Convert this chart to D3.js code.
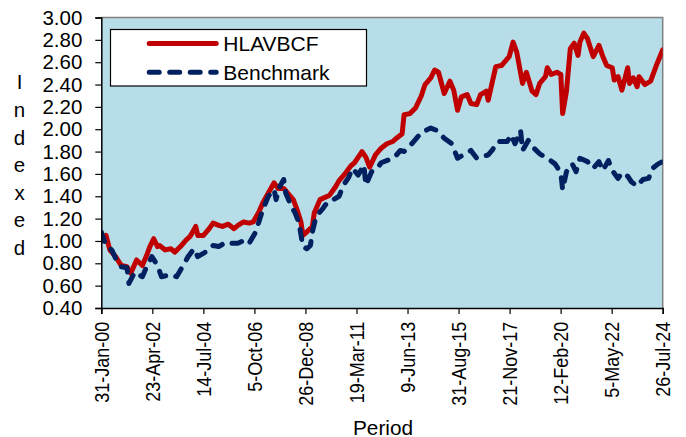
<!DOCTYPE html>
<html>
<head>
<meta charset="utf-8">
<script src="https://cdn.jsdelivr.net/npm/d3@7"></script>
<style>
  html, body { margin: 0; padding: 0; background: #ffffff; }
  svg { display: block; font-family: "Liberation Sans", Arial, sans-serif; }
</style>
</head>
<body>
<svg id="chart" width="686" height="437"></svg>
<script>
// ---- Data ----
const seriesNames = ["HLAVBCF", "Benchmark"];

const hlavDates = [
  "2000-01-31","2000-04","2000-06","2000-09","2000-12","2001-03","2001-05","2001-08","2001-11",
  "2002-01","2002-03","2002-05","2002-07","2002-08","2002-11","2003-02","2003-04","2003-07",
  "2003-10","2003-12","2004-03","2004-04","2004-07","2004-10","2004-12","2005-03","2005-05",
  "2005-08","2005-11","2006-01","2006-04","2006-07","2006-09","2006-12","2007-02","2007-05",
  "2007-08","2007-10","2008-01","2008-03","2008-06","2008-08","2008-10","2008-11","2009-01",
  "2009-04","2009-05","2009-08","2010-01","2010-04","2010-06","2010-09","2010-12","2011-02",
  "2011-06","2011-08","2011-10","2012-01","2012-04","2012-07","2012-10","2012-12","2013-03",
  "2013-04","2013-07","2013-10","2014-01","2014-03","2014-06","2014-08","2014-10","2015-01",
  "2015-04","2015-06","2015-08","2015-10","2016-01","2016-03","2016-06","2016-08","2016-11",
  "2016-12","2017-04","2017-07","2017-11","2018-01","2018-03","2018-06","2018-08","2018-11",
  "2019-01","2019-03","2019-06","2019-07","2019-09","2019-12","2020-02","2020-03","2020-05",
  "2020-07","2020-09","2020-11","2020-12","2021-02","2021-04","2021-07","2021-10","2021-12",
  "2022-02","2022-05","2022-06","2022-08","2022-10","2023-01","2023-02","2023-04","2023-06",
  "2023-07","2023-10","2024-01","2024-04","2024-07-26"
];
const hlavValues = [
  1.00,1.05,0.92,0.86,0.78,0.77,0.71,0.83,0.78,
  0.86,0.95,1.02,0.95,0.96,0.92,0.93,0.90,0.95,
  1.01,1.04,1.13,1.05,1.05,1.11,1.16,1.14,1.13,
  1.15,1.11,1.14,1.17,1.16,1.17,1.26,1.34,1.43,
  1.52,1.47,1.47,1.43,1.37,1.28,1.17,1.05,1.08,
  1.13,1.25,1.37,1.41,1.48,1.54,1.60,1.67,1.70,
  1.80,1.75,1.66,1.77,1.83,1.87,1.89,1.92,1.96,
  2.13,2.14,2.19,2.30,2.40,2.46,2.53,2.51,2.32,
  2.43,2.35,2.17,2.29,2.31,2.23,2.22,2.31,2.34,
  2.26,2.56,2.57,2.65,2.78,2.69,2.41,2.51,2.34,
  2.31,2.41,2.47,2.55,2.49,2.51,2.49,2.14,2.34,
  2.72,2.77,2.66,2.78,2.86,2.81,2.65,2.75,2.65,
  2.57,2.55,2.44,2.47,2.35,2.55,2.41,2.46,2.38,
  2.47,2.40,2.43,2.57,2.71
];

const benchDates = [
  "2000-01-31","2000-04","2000-07","2000-10","2000-12","2001-03","2001-04","2001-07","2001-11",
  "2002-01","2002-04","2002-07","2002-09","2003-02","2003-05","2003-09","2003-11","2004-02",
  "2004-04","2004-08","2004-12","2005-03","2005-07","2005-10","2006-01","2006-05","2006-07",
  "2006-10","2006-12","2007-02","2007-05","2007-08","2007-09","2007-11","2008-01","2008-02",
  "2008-05","2008-07","2008-09","2008-11","2009-01","2009-03","2009-04","2009-06","2009-09",
  "2009-12","2010-03","2010-06","2010-08","2010-11","2011-01","2011-04","2011-07","2011-08",
  "2011-11","2012-02","2012-04","2012-10","2012-11","2013-02","2013-04","2013-08","2013-09",
  "2014-01","2014-06","2014-09","2015-01","2015-05","2015-08","2015-12","2016-03","2016-06",
  "2016-12","2017-02","2017-05","2017-10","2017-12","2018-02","2018-05","2018-06","2018-09",
  "2018-12","2019-03","2019-07","2019-11","2020-02","2020-03","2020-05","2020-08","2020-10",
  "2020-12","2021-04","2021-07","2021-10","2021-12","2022-03","2022-05","2022-08","2022-10",
  "2023-01","2023-03","2023-06","2023-09","2023-12","2024-02","2024-05","2024-07-26"
];
const benchValues = [
  1.08,0.96,0.92,0.81,0.77,0.76,0.62,0.72,0.68,
  0.76,0.86,0.78,0.68,0.70,0.68,0.80,0.86,0.93,
  0.86,0.90,0.96,0.95,0.99,0.98,0.98,1.01,0.98,
  1.07,1.17,1.28,1.40,1.46,1.37,1.49,1.55,1.43,
  1.31,1.25,1.16,0.95,0.93,0.96,1.08,1.22,1.28,
  1.35,1.37,1.40,1.49,1.57,1.65,1.59,1.68,1.50,
  1.62,1.65,1.70,1.74,1.75,1.81,1.80,1.87,1.89,
  1.97,2.01,1.99,1.92,1.87,1.74,1.78,1.81,1.74,
  1.77,1.81,1.89,1.89,1.95,1.87,1.99,1.81,1.90,
  1.83,1.78,1.74,1.69,1.61,1.46,1.62,1.69,1.62,
  1.74,1.71,1.65,1.71,1.63,1.72,1.63,1.56,1.61,
  1.58,1.53,1.49,1.55,1.56,1.65,1.69,1.71
];

const xTickLabels = ["31-Jan-00","23-Apr-02","14-Jul-04","5-Oct-06","26-Dec-08","19-Mar-11",
                     "9-Jun-13","31-Aug-15","21-Nov-17","12-Feb-20","5-May-22","26-Jul-24"];
const yTicks = [0.40,0.60,0.80,1.00,1.20,1.40,1.60,1.80,2.00,2.20,2.40,2.60,2.80,3.00];
const yTitle = "Indexed";
const xTitle = "Period";

// ---- Layout ----
const plot = { left: 101.3, right: 662.7, top: 17.5, bottom: 308 };
const svg = d3.select("#chart");

const parseFull = d3.timeParse("%Y-%m-%d");
const parseTick = d3.timeParse("%d-%b-%y");
const toDate = s => s.length === 7 ? parseFull(s + "-15") : parseFull(s);

const tickDates = xTickLabels.map(parseTick);
const x = d3.scaleTime()
  .domain([tickDates[0], tickDates[tickDates.length - 1]])
  .range([plot.left, plot.right]);
const y = d3.scaleLinear().domain([0.4, 3.0]).range([plot.bottom, plot.top]);

const hlav = hlavDates.map((d, i) => ({ date: toDate(d), value: hlavValues[i] }));
const bench = benchDates.map((d, i) => ({ date: toDate(d), value: benchValues[i] }));

// Plot background
svg.append("rect")
  .attr("x", plot.left).attr("y", plot.top)
  .attr("width", plot.right - plot.left).attr("height", plot.bottom - plot.top)
  .attr("fill", "#B7DDE8");

// Top and right border
svg.append("path")
  .attr("d", `M${plot.left},${plot.top}H${plot.right}V${plot.bottom}`)
  .attr("fill", "none").attr("stroke", "#808080").attr("stroke-width", 1.5);

// Lines
const line = d3.line().x(d => x(d.date)).y(d => y(d.value));
svg.append("defs").append("clipPath").attr("id", "clip")
  .append("rect").attr("x", plot.left).attr("y", plot.top - 10)
  .attr("width", plot.right - plot.left).attr("height", plot.bottom - plot.top + 20);

svg.append("path").datum(hlav)
  .attr("clip-path", "url(#clip)")
  .attr("d", line).attr("fill", "none")
  .attr("stroke", "#C00000").attr("stroke-width", 5)
  .attr("stroke-linejoin", "round").attr("stroke-linecap", "round");

svg.append("path").datum(bench)
  .attr("clip-path", "url(#clip)")
  .attr("d", line).attr("fill", "none")
  .attr("stroke", "#002060").attr("stroke-width", 5)
  .attr("stroke-dasharray", "10,10.5")
  .attr("stroke-linejoin", "round").attr("stroke-linecap", "round");

// Y axis
const yAxis = d3.axisLeft(y).tickValues(yTicks).tickFormat(d3.format(".2f"))
  .tickSize(6).tickPadding(13);
const gy = svg.append("g").attr("transform", `translate(${plot.left},0)`).call(yAxis);
gy.select(".domain").attr("stroke", "#000").attr("stroke-width", 1.5);
gy.selectAll(".tick line").attr("stroke", "#000").attr("stroke-width", 1.2);
gy.selectAll(".tick text").attr("font-size", 20.5).attr("fill", "#000")
  .attr("font-family", "Liberation Sans, Arial, sans-serif");

// X axis
const xAxis = d3.axisBottom(x).tickValues(tickDates)
  .tickFormat((d, i) => xTickLabels[i]).tickSize(6);
const gx = svg.append("g").attr("transform", `translate(0,${plot.bottom})`).call(xAxis);
gx.select(".domain").attr("stroke", "#000").attr("stroke-width", 1.5);
gx.selectAll(".tick line").attr("stroke", "#000").attr("stroke-width", 1.2);
gx.selectAll(".tick text")
  .attr("font-size", 20).attr("fill", "#000")
  .attr("font-family", "Liberation Sans, Arial, sans-serif")
  .attr("text-anchor", "end")
  .attr("transform", "rotate(-90) scale(0.9,1)")
  .attr("x", -13.7 / 0.9).attr("y", 0).attr("dy", "0.35em");

// Y title: stacked letters
const letters = yTitle.split("");
svg.append("g").selectAll("text").data(letters).join("text")
  .attr("x", 19.5)
  .attr("y", (d, i) => 89.3 + i * 27.6)
  .attr("text-anchor", "middle")
  .attr("font-size", 20.5).attr("fill", "#000")
  .text(d => d);

// X title
svg.append("text")
  .attr("x", 383).attr("y", 434.5)
  .attr("text-anchor", "middle")
  .attr("font-size", 20.8).attr("fill", "#000")
  .text(xTitle);

// Legend
const lg = svg.append("g");
lg.append("rect").attr("x", 110.5).attr("y", 29.5).attr("width", 256).attr("height", 56.5)
  .attr("fill", "#fff").attr("stroke", "#000").attr("stroke-width", 1.2);
const legendItems = [
  { name: seriesNames[0], color: "#C00000", dash: null, y: 43.5 },
  { name: seriesNames[1], color: "#002060", dash: "10,10.5", y: 72.3 }
];
legendItems.forEach(it => {
  lg.append("line").attr("x1", 149.2).attr("x2", 216.2).attr("y1", it.y).attr("y2", it.y)
    .attr("stroke", it.color).attr("stroke-width", 5).attr("stroke-linecap", "round")
    .attr("stroke-dasharray", it.dash);
  lg.append("text").attr("x", 223.3).attr("y", it.y + 7.2)
    .attr("font-size", 21).attr("fill", "#000").text(it.name);
});
</script>
</body>
</html>
